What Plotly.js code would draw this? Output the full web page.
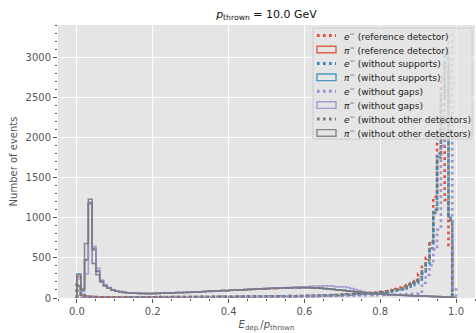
<!DOCTYPE html>
<html><head><meta charset="utf-8">
<script src="https://cdn.plot.ly/plotly-3.0.1.min.js"></script>
<style>html,body{margin:0;padding:0;background:#fff}</style>
</head><body><div id="chart" style="width:476px;height:333px"></div>
<script>
// bin edges of E_dep/p_thrown (0.00 .. 1.00, 100 bins)
const binEdges = Array.from({length: 101}, (_, i) => +(i * 0.01).toFixed(2));

// e- counts per bin
const eRef = [150,40,20,15,12,10,10,9,8,8, 8,9,7,8,9,8,10,9,8,10, 9,11,10,9,12,11,10,12,11,13, 12,13,12,14,13,12,15,14,13,15,
  14,16,15,14,17,16,18,17,16,19, 18,20,19,21,20,22,23,22,24,25, 26,28,27,30,31,33,35,36,38,40, 42,45,47,50,53,56,60,63,67,72,
  78,85,92,100,112,130,150,170,195,220, 300,390,500,700,1260,2100,2750,1220,640,0];
const eSup = [170,35,18,14,12,10,9,9,8,7, 7,8,8,7,9,8,8,9,10,9, 10,9,11,10,10,12,11,11,12,12, 13,12,13,13,14,13,14,15,14,15,
  15,16,15,16,17,16,17,18,18,19, 19,20,19,20,21,21,22,22,23,24, 24,25,26,27,28,29,31,32,34,36, 38,40,42,45,47,50,53,56,59,60,
  62,68,75,82,92,105,120,140,160,185, 230,300,420,620,1100,1800,2600,3050,1000,0];
const eGaps = [20,8,6,5,5,5,4,5,5,4, 5,5,6,5,5,6,5,6,6,6, 6,7,6,7,7,7,8,7,8,8, 8,9,8,9,9,10,9,10,10,11, 10,11,11,12,11,12,12,13,13,13,
  14,14,15,15,16,16,17,17,18,19, 19,20,21,21,22,23,24,25,26,27, 28,29,30,31,32,33,34,35,36,37,
  38,40,41,43,44,46,47,49,51,55, 80,190,290,410,600,850,1900,2500,3280,130];
const eOther = [160,40,20,15,12,10,9,8,8,8, 8,8,9,8,9,9,10,9,9,10, 10,10,11,10,11,12,11,12,12,13, 12,13,13,14,13,14,14,15,15,15,
  15,16,16,17,16,17,18,17,18,19, 19,20,20,21,21,22,23,23,24,25, 25,26,27,28,30,31,33,34,36,38, 40,42,44,47,49,52,55,58,62,66,
  70,78,85,95,105,120,140,160,185,210, 260,350,470,680,1060,1750,2500,2900,970,0];

// pi- counts per bin
const piRef = [260,110,470,1180,600,330,210,160,125,100, 88,78,70,66,62,58,60,55,57,54, 58,56,60,62,60,66,64,70,68,72,
  75,78,74,82,80,86,84,90,92,88, 95,98,100,97,104,108,105,112,115,110, 118,120,116,124,126,122,128,130,126,132,
  130,128,126,124,120,118,114,108,104,98, 94,88,84,78,74,70,64,60,56,52, 50,46,42,40,38,35,33,30,29,27, 25,24,22,21,20,18,16,14,10,2];
const piSup = [300,105,480,1190,620,340,215,155,128,102, 85,80,72,64,63,60,57,58,55,56, 57,59,58,63,62,64,67,66,71,70,
  74,76,79,78,84,83,88,87,93,91, 96,95,102,100,106,104,110,113,111,117, 116,121,123,120,127,125,129,127,131,128,
  129,127,123,125,119,116,112,110,102,100, 92,90,82,80,72,68,66,58,57,50, 50,44,43,39,37,36,32,31,28,26, 26,23,22,20,19,17,15,13,11,2];
const piGaps = [230,80,300,1170,640,370,225,165,130,105, 90,80,72,66,62,60,56,55,56,55, 56,57,58,60,61,63,64,66,68,70,
  72,74,76,78,80,82,85,87,90,92, 94,97,100,102,104,107,110,112,115,118, 120,122,124,127,129,131,133,135,137,139,
  140,142,150,148,146,152,150,145,140,138, 140,130,118,105,92,80,72,64,58,52, 48,45,42,39,36,34,31,29,27,25, 24,22,21,20,19,18,17,16,14,6];
const piOther = [290,100,680,1230,430,290,200,150,120,98, 84,76,70,65,60,58,56,57,54,55, 56,58,61,60,64,63,67,69,67,73,
  73,77,77,81,83,85,89,88,92,94, 97,99,101,103,106,109,108,114,116,114, 119,119,122,125,123,129,127,132,129,130,
  128,130,125,122,121,117,111,107,103,97, 95,87,85,77,75,69,65,59,55,51, 49,45,41,41,37,34,33,30,28,27, 24,24,21,20,18,17,15,14,10,2];

const seriesNames = [
  '<i>e</i><sup>−</sup> (reference detector)', '<i>π</i><sup>−</sup> (reference detector)',
  '<i>e</i><sup>−</sup> (without supports)', '<i>π</i><sup>−</sup> (without supports)',
  '<i>e</i><sup>−</sup> (without gaps)', '<i>π</i><sup>−</sup> (without gaps)',
  '<i>e</i><sup>−</sup> (without other detectors)', '<i>π</i><sup>−</sup> (without other detectors)'
];
const seriesData = [eRef, piRef, eSup, piSup, eGaps, piGaps, eOther, piOther];
const colors = ['#E24A33', '#348ABD', '#988ED5', '#777777'];

function stepXY(counts) {
  const xs = [binEdges[0]], ys = [0];
  for (let i = 0; i < counts.length; i++) { xs.push(binEdges[i]); ys.push(counts[i]); }
  xs.push(binEdges[counts.length]); ys.push(counts[counts.length - 1]);
  xs.push(binEdges[counts.length]); ys.push(0);
  return {xs, ys};
}

const traces = seriesData.map((d, i) => {
  const s = stepXY(d);
  const isE = i % 2 === 0;
  const c = colors[Math.floor(i / 2)];
  return {
    type: 'scatter', mode: 'lines', x: s.xs, y: s.ys, name: seriesNames[i],
    line: {shape: 'hv', color: c, width: isE ? 2.6 : 1.5, dash: isE ? '2.6px,3.4px' : 'solid'},
    opacity: isE ? 0.95 : 0.85, showlegend: false, hoverinfo: 'skip'
  };
});

// custom legend (matplotlib-like compact layout)
const P = {x0: 58, x1: 475, y0: 25, y1: 298};
const pxX = v => (v - P.x0) / (P.x1 - P.x0);
const pxY = v => (P.y1 - v) / (P.y1 - P.y0);
const shapes = [{
  type: 'rect', xref: 'paper', yref: 'paper', layer: 'above',
  x0: pxX(313), x1: pxX(472), y0: pxY(139), y1: pxY(28),
  fillcolor: 'rgba(229,229,229,0.8)', line: {color: '#CCCCCC', width: 1}
}];
const annotations = [];
seriesNames.forEach((nm, i) => {
  const yc = 35.6 + 13.9 * i;
  const c = colors[Math.floor(i / 2)];
  if (i % 2 === 0) {
    shapes.push({type: 'line', xref: 'paper', yref: 'paper', layer: 'above',
      x0: pxX(317), x1: pxX(336), y0: pxY(yc), y1: pxY(yc),
      line: {color: c, width: 3, dash: '2.6px,3.4px'}});
  } else {
    shapes.push({type: 'rect', xref: 'paper', yref: 'paper', layer: 'above',
      x0: pxX(317), x1: pxX(336), y0: pxY(yc + 3.3), y1: pxY(yc - 3.3),
      fillcolor: 'rgba(0,0,0,0)', line: {color: c, width: 1.4}, opacity: 0.85});
  }
  annotations.push({xref: 'paper', yref: 'paper', x: pxX(342), y: pxY(yc), xanchor: 'left', yanchor: 'middle',
    text: nm, showarrow: false, font: {family: 'DejaVu Sans', size: 9, color: '#222'}});
});

const layout = {
  width: 476, height: 333,
  margin: {l: 58, r: 1, t: 25, b: 35},
  paper_bgcolor: '#ffffff', plot_bgcolor: '#E5E5E5',
  font: {family: 'DejaVu Sans', size: 10, color: '#555555'},
  title: {text: '<i>p</i><sub>thrown</sub> = 10.0 GeV', font: {size: 11, color: '#111'},
    xref: 'paper', x: 0.5, xanchor: 'center', yref: 'container', y: 1 - 14 / 333, yanchor: 'middle'},
  xaxis: {range: [-0.05, 1.05], tickvals: [0, 0.2, 0.4, 0.6, 0.8, 1.0], tickformat: '.1f',
    ticks: 'outside', ticklen: 4, tickcolor: '#555555', showgrid: true, gridcolor: '#ffffff', gridwidth: 1,
    zeroline: false, showline: false,
    minor: {dtick: 0.05, tick0: 0, ticks: 'outside', ticklen: 2, tickcolor: '#555555', showgrid: false},
    title: {text: '<i>E</i><sub>dep.</sub>/<i>p</i><sub>thrown</sub>', font: {size: 10, color: '#555555'}, standoff: 4}},
  yaxis: {range: [0, 3400], tick0: 0, dtick: 500,
    ticks: 'outside', ticklen: 4, tickcolor: '#555555', showgrid: true, gridcolor: '#ffffff', gridwidth: 1,
    zeroline: false, showline: false,
    minor: {dtick: 100, tick0: 0, ticks: 'outside', ticklen: 2, tickcolor: '#555555', showgrid: false},
    title: {text: 'Number of events', font: {size: 10, color: '#555555'}, standoff: 6}},
  shapes: shapes, annotations: annotations
};

Plotly.newPlot('chart', traces, layout, {staticPlot: true, displayModeBar: false});
</script>
</body></html>
